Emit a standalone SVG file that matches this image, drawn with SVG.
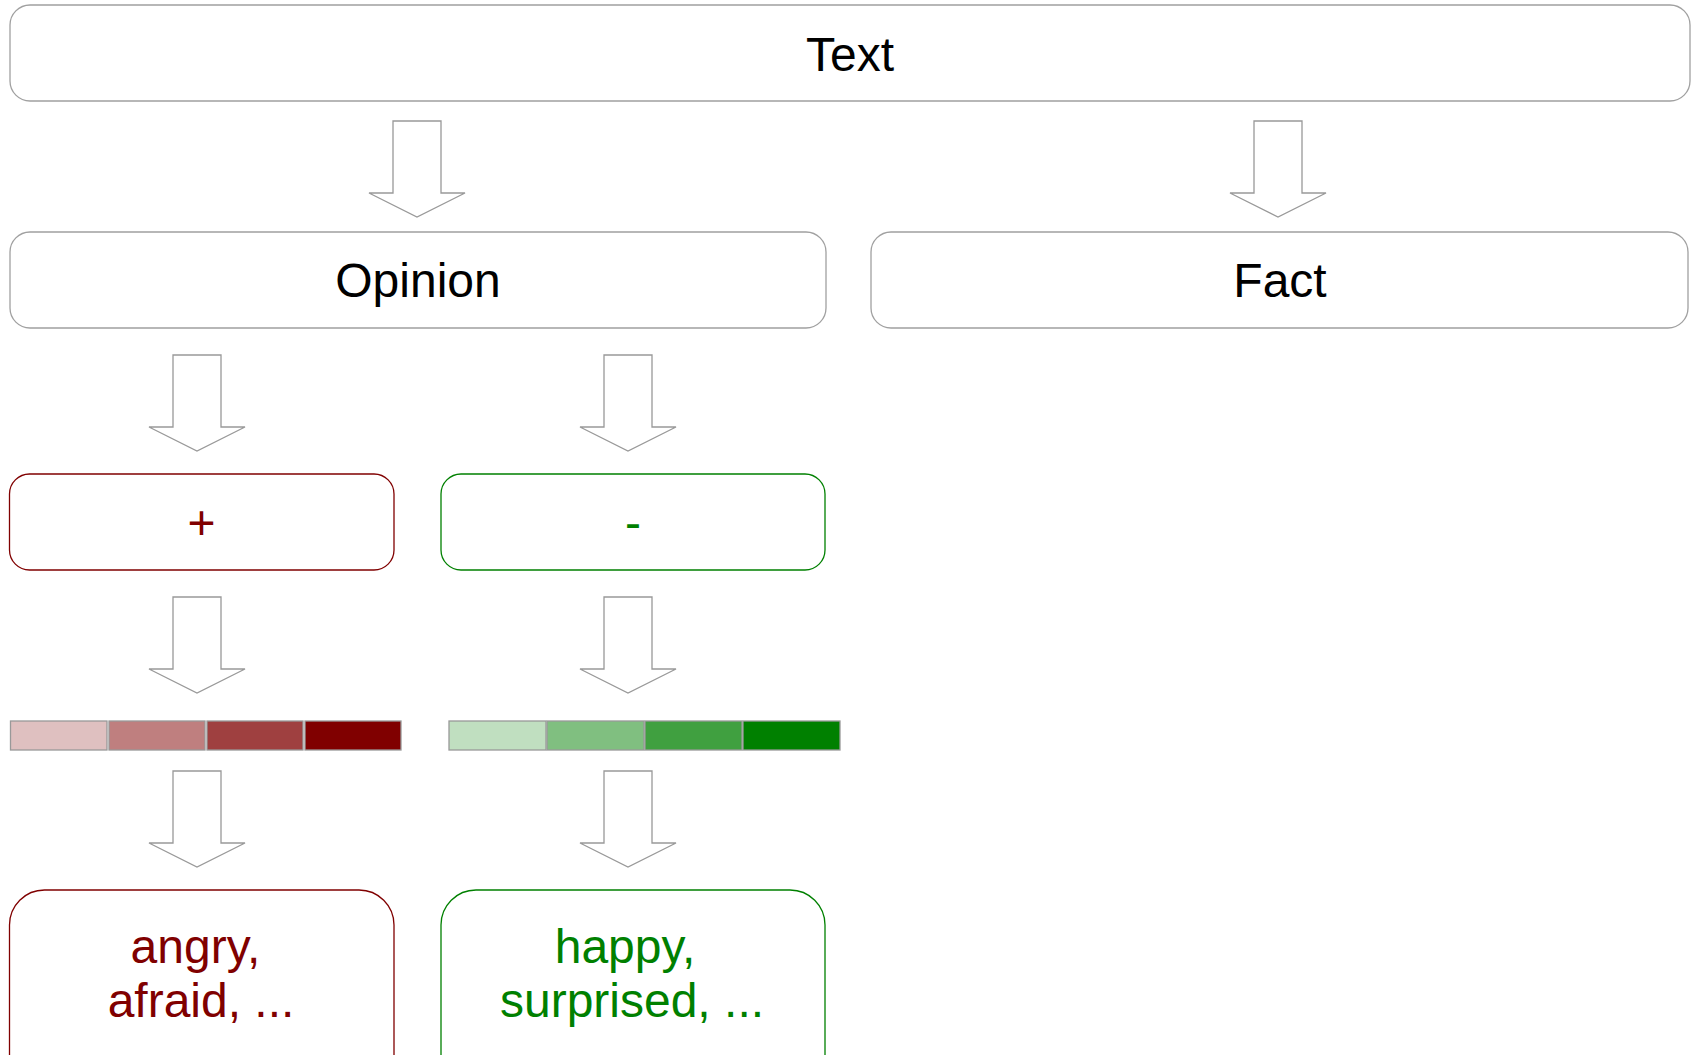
<svg xmlns="http://www.w3.org/2000/svg" width="1694" height="1055" viewBox="0 0 1694 1055">
<style>
.box{fill:#fff;stroke:#a0a0a0;stroke-width:1.3}
.red{fill:#fff;stroke:#800000;stroke-width:1.3}
.grn{fill:#fff;stroke:#008000;stroke-width:1.3}
.arr{fill:#fff;stroke:#999;stroke-width:1.3;stroke-linejoin:miter}
.seg{stroke:#999;stroke-width:1.3}
text{font-family:"Liberation Sans",Arial,sans-serif;font-size:48px;text-anchor:middle}
.tr{fill:#800000}
.tg{fill:#008000}
.tb{fill:#000}
</style>
<defs>
<path id="darrow" d="M-24,0 H24 V72 H48 L0,96 L-48,72 H-24 Z"/>
</defs>
<g id="connectors">
<use href="#darrow" class="arr" x="417" y="121"/>
<use href="#darrow" class="arr" x="1278" y="121"/>
<use href="#darrow" class="arr" x="197" y="355"/>
<use href="#darrow" class="arr" x="628" y="355"/>
<use href="#darrow" class="arr" x="197" y="597"/>
<use href="#darrow" class="arr" x="628" y="597"/>
<use href="#darrow" class="arr" x="197" y="771"/>
<use href="#darrow" class="arr" x="628" y="771"/>
</g>
<g id="node-text">
<rect class="box" x="10" y="5" width="1680" height="96" rx="20"/>
<text class="tb" x="850" y="71">Text</text>
</g>
<g id="node-opinion">
<rect class="box" x="10" y="232" width="816" height="96" rx="20"/>
<text class="tb" x="418" y="297">Opinion</text>
</g>
<g id="node-fact">
<rect class="box" x="871" y="232" width="817" height="96" rx="20"/>
<text class="tb" x="1280" y="297">Fact</text>
</g>
<g id="node-plus">
<rect class="red" x="9.5" y="474" width="384.5" height="96" rx="20"/>
<text class="tr" x="201.5" y="539">+</text>
</g>
<g id="node-minus">
<rect class="grn" x="441" y="474" width="384" height="96" rx="20"/>
<text class="tg" x="633" y="539">-</text>
</g>
<g id="node-red-scale">
<rect class="seg" x="10.5" y="721" width="96.5" height="29" fill="#dfc0c0"/>
<rect class="seg" x="109" y="721" width="96" height="29" fill="#bf7f7f"/>
<rect class="seg" x="207" y="721" width="96" height="29" fill="#9f4040"/>
<rect class="seg" x="305" y="721" width="96" height="29" fill="#800000"/>
</g>
<g id="node-green-scale">
<rect class="seg" x="449" y="721" width="97" height="29" fill="#c0dfc0"/>
<rect class="seg" x="547" y="721" width="97" height="29" fill="#80bf80"/>
<rect class="seg" x="645" y="721" width="97" height="29" fill="#40a040"/>
<rect class="seg" x="743" y="721" width="97" height="29" fill="#008000"/>
</g>
<g id="node-negative-emotions">
<rect class="red" x="9.5" y="890" width="384.5" height="200" rx="35"/>
<text class="tr" x="195.5" y="963">angry,</text>
<text class="tr" x="201" y="1017">afraid, ...</text>
</g>
<g id="node-positive-emotions">
<rect class="grn" x="441" y="890" width="384" height="200" rx="35"/>
<text class="tg" x="625" y="963">happy,</text>
<text class="tg" x="632" y="1017">surprised, ...</text>
</g>
</svg>
